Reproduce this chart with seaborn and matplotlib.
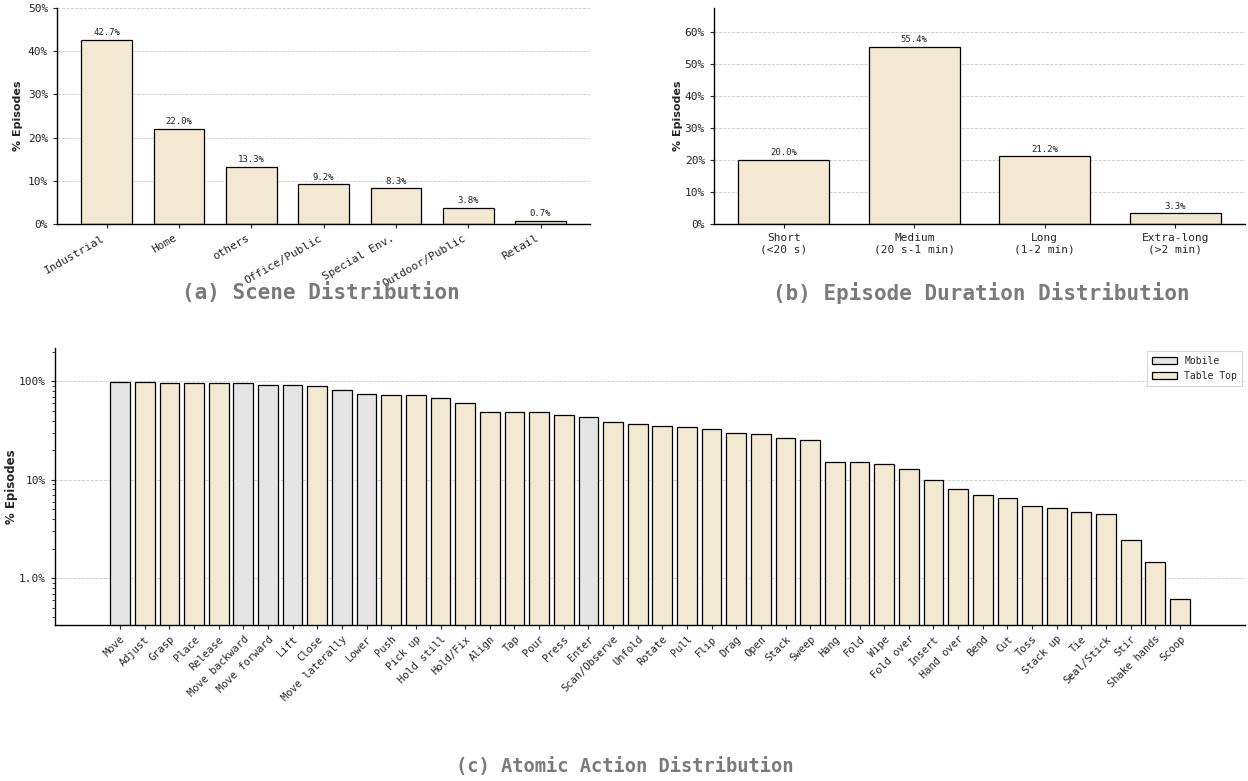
import seaborn as sns
import matplotlib.pyplot as plt
import matplotlib.ticker as mticker
import pandas as pd
import numpy as np

# Data
scenes = ['Industrial', 'Home', 'others', 'Office/Public', 'Special Env.', 'Outdoor/Public', 'Retail']
scene_pct = [42.7, 22.0, 13.3, 9.2, 8.3, 3.8, 0.7]

durations = ['Short\n(<20 s)', 'Medium\n(20 s-1 min)', 'Long\n(1-2 min)', 'Extra-long\n(>2 min)']
duration_pct = [20.0, 55.4, 21.2, 3.3]

actions = ['Move', 'Adjust', 'Grasp', 'Place', 'Release', 'Move backward', 'Move forward', 'Lift',
           'Close', 'Move laterally', 'Lower', 'Push', 'Pick up', 'Hold still', 'Hold/Fix', 'Align',
           'Tap', 'Pour', 'Press', 'Enter', 'Scan/Observe', 'Unfold', 'Rotate', 'Pull', 'Flip', 'Drag',
           'Open', 'Stack', 'Sweep', 'Hang', 'Fold', 'Wipe', 'Fold over', 'Insert', 'Hand over', 'Bend',
           'Cut', 'Toss', 'Stack up', 'Tie', 'Seal/Stick', 'Stir', 'Shake hands', 'Scoop']
action_pct = [99.2, 99.2, 96.9, 96.2, 95.4, 95.4, 91.1, 91.1, 90.4, 81.0, 73.8, 73.2, 73.2, 68.3,
              59.8, 48.8, 48.8, 48.5, 45.2, 43.1, 38.4, 37.2, 34.9, 34.4, 32.6, 29.7, 29.0, 26.4,
              25.6, 15.1, 15.1, 14.4, 13.0, 10.0, 8.0, 6.97, 6.5, 5.47, 5.22, 4.75, 4.54, 2.47,
              1.45, 0.61]
mobile_actions = ['Move', 'Move backward', 'Move forward', 'Lift', 'Move laterally', 'Lower', 'Enter']
action_type = ['Mobile' if a in mobile_actions else 'Table Top' for a in actions]

BEIGE = '#F3E9D3'
GREY = '#E5E5E5'
TITLE_GREY = '#7a7a7a'

sns.set_style('white')
plt.rcParams['font.family'] = ['DejaVu Sans Mono']

fig = plt.figure(figsize=(12.48, 7.81), dpi=100)
ax1 = fig.add_axes([0.0457, 0.7132, 0.4271, 0.2766])
ax2 = fig.add_axes([0.5721, 0.7132, 0.4255, 0.2766])
ax3 = fig.add_axes([0.0441, 0.1998, 0.9535, 0.3546])

pct_fmt = mticker.FuncFormatter(lambda y, _: f'{y:.0f}%')


def style_top(ax, values, ymax, label_x):
    ax.set_ylim(0, ymax)
    ax.yaxis.set_major_formatter(pct_fmt)
    ax.grid(axis='y', linestyle='--', color='#cccccc', linewidth=0.6)
    ax.set_axisbelow(True)
    ax.set_ylabel('% Episodes', fontsize=8, fontweight='bold', family='DejaVu Sans')
    ax.yaxis.set_label_coords(label_x, 0.5)
    ax.set_xlabel('')
    ax.tick_params(axis='y', labelsize=8, length=3, left=True)
    ax.tick_params(axis='x', length=3, bottom=True)
    for s in ['top', 'right']:
        ax.spines[s].set_visible(False)
    for s in ['left', 'bottom']:
        ax.spines[s].set_color('black')
        ax.spines[s].set_linewidth(1)
    for p, v in zip(ax.patches, values):
        ax.text(p.get_x() + p.get_width() / 2, p.get_height() + ymax * 0.012, f'{v:.1f}%',
                ha='center', va='bottom', fontsize=6.5)


# (a) scenes
df_s = pd.DataFrame({'Scene': scenes, 'Pct': scene_pct})
sns.barplot(data=df_s, x='Scene', y='Pct', color=BEIGE, saturation=1, width=0.7,
            edgecolor='black', linewidth=0.9, ax=ax1)
ax1.set_xlim(-0.685, 6.685)
style_top(ax1, scene_pct, 50, -0.064)
ax1.set_xticks(range(len(scenes)))
ax1.set_xticklabels(scenes, rotation=30, ha='right', fontsize=8)

# (b) duration
df_d = pd.DataFrame({'Duration': durations, 'Pct': duration_pct})
sns.barplot(data=df_d, x='Duration', y='Pct', color=BEIGE, saturation=1, width=0.7,
            edgecolor='black', linewidth=0.9, ax=ax2)
ax2.set_xlim(-0.535, 3.535)
style_top(ax2, duration_pct, 67.6, -0.058)
ax2.set_xticks(range(len(durations)))
ax2.set_xticklabels(durations, fontsize=8)

# (c) atomic actions, log scale
df_a = pd.DataFrame({'Action': actions, 'Pct': action_pct, 'Type': action_type})
sns.barplot(data=df_a, x='Action', y='Pct', hue='Type', hue_order=['Mobile', 'Table Top'],
            palette={'Mobile': GREY, 'Table Top': BEIGE}, saturation=1, dodge=False, width=0.8,
            edgecolor='black', linewidth=0.9, ax=ax3)
ax3.set_yscale('log')
ax3.set_ylim(min(action_pct) * 0.55, max(action_pct) * 2.2)
ax3.set_xlim(-2.64, 45.64)
ax3.yaxis.set_major_formatter(mticker.FuncFormatter(lambda y, _: f'{y:.1f}%' if y < 10 else f'{y:.0f}%'))
ax3.yaxis.set_minor_formatter(mticker.NullFormatter())
ax3.grid(axis='y', which='major', linestyle='--', color='#cccccc', linewidth=0.6)
ax3.set_axisbelow(True)
ax3.set_ylabel('% Episodes', fontsize=8.5, fontweight='bold', family='DejaVu Sans')
ax3.yaxis.set_label_coords(-0.031, 0.5)
ax3.set_xlabel('')
ax3.tick_params(axis='y', which='major', labelsize=8, length=3, left=True)
ax3.tick_params(axis='y', which='minor', length=2, left=True)
ax3.tick_params(axis='x', length=3, bottom=True)
ax3.set_xticks(range(len(actions)))
ax3.set_xticklabels(actions, rotation=45, ha='right', rotation_mode='anchor', fontsize=7.5)
for s in ['top', 'right']:
    ax3.spines[s].set_visible(False)
for s in ['left', 'bottom']:
    ax3.spines[s].set_color('black')
    ax3.spines[s].set_linewidth(1)
leg = ax3.legend(loc='upper right', fontsize=7, frameon=True, fancybox=False,
                 handlelength=2.5, borderpad=0.5, borderaxespad=0.3, title=None)
leg.get_frame().set_edgecolor('#cccccc')
leg.get_frame().set_linewidth(0.8)

# panel titles
fig.text(0.257, 0.626, '(a) Scene Distribution', ha='center', va='center',
         fontsize=15, fontweight='bold', color=TITLE_GREY)
fig.text(0.786, 0.625, '(b) Episode Duration Distribution', ha='center', va='center',
         fontsize=15, fontweight='bold', color=TITLE_GREY)
fig.text(0.5008, 0.0192, '(c) Atomic Action Distribution', ha='center', va='center',
         fontsize=13.5, fontweight='bold', color=TITLE_GREY)

fig.savefig('out.png', dpi=100)
